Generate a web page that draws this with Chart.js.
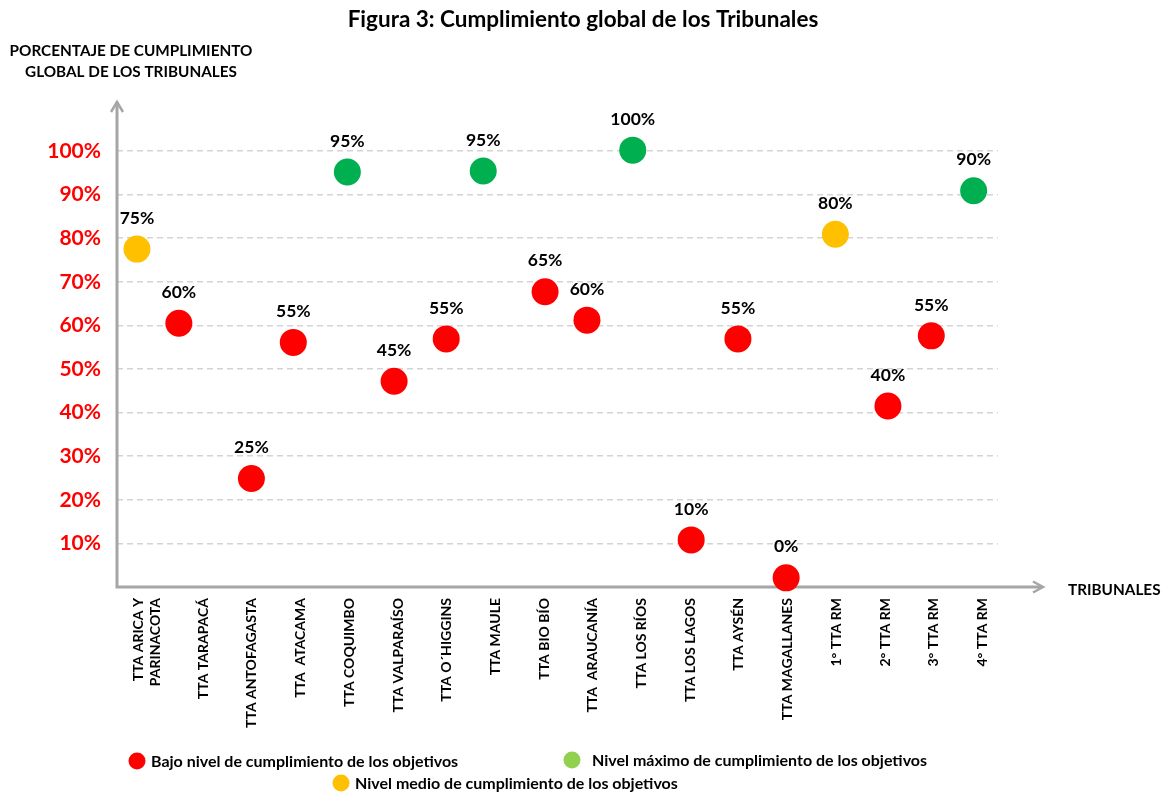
<!DOCTYPE html>
<html>
<head>
<meta charset="utf-8">
<script src="https://cdn.jsdelivr.net/npm/chart.js@4.4.1/dist/chart.umd.min.js"></script>
<style>
	html, body { margin: 0; padding: 0; background: #fff; }
	#wrap { width: 1162px; height: 792px; }
</style>
</head>
<body>
<div id="wrap"><canvas id="grafico"></canvas></div>
<script>
// tribunales (eje X)
const tribunales = [
	['TTA ARICA Y', 'PARINACOTA'], 'TTA TARAPACÁ', 'TTA ANTOFAGASTA', 'TTA  ATACAMA',
	'TTA COQUIMBO', 'TTA VALPARAÍSO', 'TTA O´HIGGINS', 'TTA MAULE', 'TTA BIO BÍO',
	'TTA  ARAUCANÍA', 'TTA LOS RÍOS', 'TTA LOS LAGOS', 'TTA AYSÉN', 'TTA MAGALLANES',
	'1° TTA RM', '2° TTA RM', '3° TTA RM', '4° TTA RM'
];
// porcentaje que se lee en cada etiqueta
const cumplimiento = [75, 60, 25, 55, 95, 45, 55, 95, 65, 60, 100, 10, 55, 0, 80, 40, 55, 90];
// altura a la que aparece cada punto en la figura (%)
const alturaPunto = [77.5, 60.5, 24.9, 56.1, 95.2, 47.2, 56.9, 95.4, 67.7, 61.2, 100.2, 10.8, 56.9, 2.1, 80.9, 41.5, 57.6, 90.9];
// posicion horizontal de cada punto, en unidades de tribunal
const posicion = [-0.36, 0.5, 1.99, 2.85, 3.96, 4.92, 5.99, 6.75, 8.02, 8.88, 9.82, 11.02, 11.98, 12.97, 13.98, 15.06, 15.95, 16.82];
const ticksY = [10, 20, 30, 40, 50, 60, 70, 80, 90, 100];

const leyenda = [
	{ texto: 'Bajo nivel de cumplimiento de los objetivos', color: '#ff0000', x: 137, y: 761, sep: 14 },
	{ texto: 'Nivel máximo de cumplimiento de los objetivos', color: '#92d050', x: 572, y: 760, sep: 20 },
	{ texto: 'Nivel medio de cumplimiento de los objetivos', color: '#ffc000', x: 341, y: 783, sep: 14 }
];

const FUENTE = "Lato, 'Open Sans', sans-serif";
const GRIS = '#a6a6a6';

function colorNivel(v) {
	if (v >= 85) return '#00b050';
	if (v >= 70) return '#ffc000';
	return '#ff0000';
}

const puntos = cumplimiento.map(function (v, i) {
	return { x: posicion[i], y: alturaPunto[i] };
});

const extras = {
	id: 'extras',
	beforeDatasetsDraw: function (chart) {
		const ctx = chart.ctx;
		const a = chart.chartArea;
		ctx.save();
		// ejes con flecha
		ctx.strokeStyle = GRIS;
		ctx.lineWidth = 3;
		ctx.beginPath();
		ctx.moveTo(a.left, a.bottom + 1);
		ctx.lineTo(a.left, 102);
		ctx.moveTo(a.left - 1.5, a.bottom);
		ctx.lineTo(1042, a.bottom);
		ctx.stroke();
		ctx.lineWidth = 2.5;
		ctx.beginPath();
		ctx.moveTo(a.left - 6, 112);
		ctx.lineTo(a.left, 102);
		ctx.lineTo(a.left + 6, 112);
		ctx.moveTo(1033, a.bottom - 5.5);
		ctx.lineTo(1043, a.bottom);
		ctx.lineTo(1033, a.bottom + 5.5);
		ctx.stroke();
		ctx.restore();
	},
	afterDraw: function (chart) {
		const ctx = chart.ctx;
		ctx.save();

		// etiquetas de valor
		const meta = chart.getDatasetMeta(0);
		ctx.fillStyle = '#000';
		ctx.font = 'bold 17.5px ' + FUENTE;
		ctx.textAlign = 'center';
		ctx.textBaseline = 'middle';
		meta.data.forEach(function (el, i) {
			ctx.fillText(cumplimiento[i] + '%', el.x, el.y - 31);
		});

		// titulos
		ctx.font = 'bold 22.5px ' + FUENTE;
		ctx.fillText('Figura 3: Cumplimiento global de los Tribunales', 583, 20);
		ctx.font = 'bold 15.3px ' + FUENTE;
		ctx.fillText('PORCENTAJE DE CUMPLIMIENTO', 131, 51);
		ctx.fillText('GLOBAL DE LOS TRIBUNALES', 131, 72);
		ctx.textAlign = 'left';
		ctx.fillText('TRIBUNALES', 1068, 590);

		// leyenda
		ctx.font = 'bold 16px ' + FUENTE;
		leyenda.forEach(function (l) {
			ctx.fillStyle = l.color;
			ctx.beginPath();
			ctx.arc(l.x, l.y, 8.5, 0, Math.PI * 2);
			ctx.fill();
			ctx.fillStyle = '#000';
			ctx.fillText(l.texto, l.x + l.sep, l.y + 1);
		});
		ctx.restore();
	}
};

new Chart(document.getElementById('grafico'), {
	type: 'scatter',
	data: {
		datasets: [{
			data: puntos,
			backgroundColor: cumplimiento.map(colorNivel),
			borderWidth: 0,
			pointRadius: 13.5,
			pointHoverRadius: 13.5,
			clip: false
		}]
	},
	plugins: [extras],
	options: {
		responsive: true,
		maintainAspectRatio: false,
		animation: false,
		events: [],
		layout: { padding: { left: 0, right: 164, top: 151, bottom: 0 } },
		plugins: {
			legend: { display: false },
			tooltip: { enabled: false }
		},
		scales: {
			x: {
				type: 'linear',
				min: -0.77,
				max: 17.32,
				afterBuildTicks: function (s) {
					// la etiqueta de dos lineas va algo mas a la izquierda
					s.ticks = tribunales.map(function (t, i) { return { value: i === 0 ? -0.33 : i }; });
				},
				afterFit: function (s) { s.height = 205; },
				grid: { display: false },
				border: { display: false },
				ticks: {
					autoSkip: false,
					minRotation: 90,
					maxRotation: 90,
					padding: 3,
					color: '#000',
					font: { family: FUENTE, size: 14, weight: 'bold' },
					callback: function (v, i) { return tribunales[i]; }
				}
			},
			y: {
				min: 0,
				max: 100,
				afterBuildTicks: function (s) {
					s.ticks = [0].concat(ticksY).map(function (v) { return { value: v }; });
				},
				afterFit: function (s) { s.width = 117; },
				grid: {
					drawTicks: false,
					lineWidth: 1.5,
					color: function (c) { return c.tick && c.tick.value === 0 ? 'rgba(0,0,0,0)' : '#d4d4d4'; }
				},
				border: { display: false, dash: [6, 4] },
				ticks: {
					padding: 16,
					color: '#ff0000',
					font: { family: FUENTE, size: 21, weight: 'bold' },
					callback: function (v) { return v === 0 ? '' : v + '%'; }
				}
			}
		}
	}
});
</script>
</body>
</html>
